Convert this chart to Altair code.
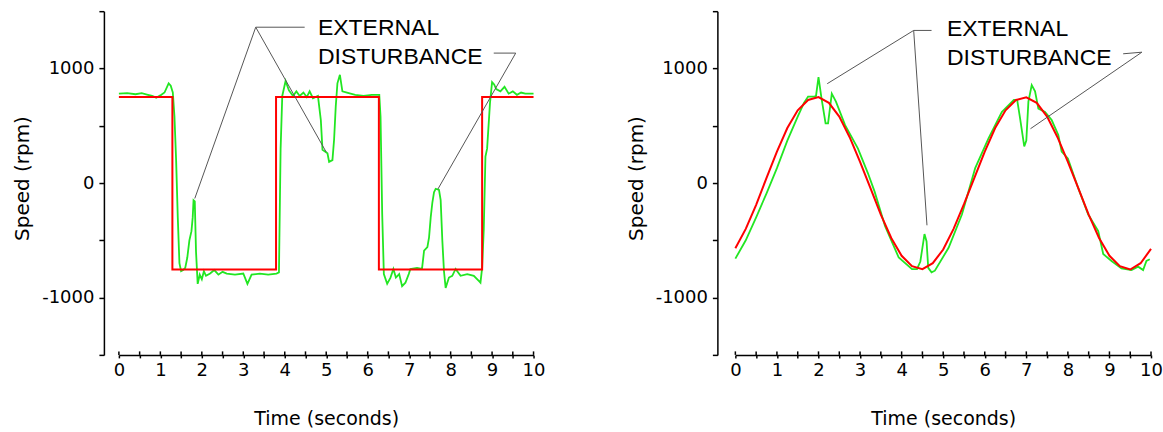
import altair as alt
import pandas as pd

# ---------------- data ----------------
# Left panel: square-wave reference (red) and measured speed (green)
sq_ref_t = [0.0, 1.29, 3.79, 6.27, 8.76, 10.0]
sq_ref_v = [750, -755, 750, -755, 750, 750]

sq_act_t = [0.0, 0.2, 0.4, 0.55, 0.7, 0.8, 0.9, 1.0, 1.1, 1.2, 1.25, 1.3, 1.34, 1.38,
            1.42, 1.46, 1.5, 1.55, 1.6, 1.65, 1.7, 1.75, 1.78, 1.8, 1.83, 1.86, 1.9,
            1.95, 2.0, 2.05, 2.1, 2.2, 2.3, 2.4, 2.5, 2.6, 2.8, 3.0, 3.1, 3.2, 3.4,
            3.6, 3.8, 3.86, 3.9, 3.94, 4.02, 4.1, 4.2, 4.28, 4.36, 4.45, 4.53, 4.6,
            4.68, 4.8, 4.87, 4.91, 5.03, 5.07, 5.15, 5.19, 5.23, 5.27, 5.33, 5.39,
            5.5, 5.7, 5.9, 6.1, 6.28, 6.31, 6.35, 6.39, 6.47, 6.55, 6.62, 6.68, 6.76,
            6.83, 6.91, 6.99, 7.03, 7.19, 7.31, 7.36, 7.44, 7.48, 7.52, 7.56, 7.6,
            7.64, 7.72, 7.76, 7.8, 7.84, 7.88, 7.96, 8.04, 8.12, 8.24, 8.4, 8.56,
            8.68, 8.72, 8.76, 8.8, 8.84, 8.88, 8.95, 9.0, 9.05, 9.1, 9.2, 9.3, 9.4,
            9.5, 9.6, 9.7, 9.8, 9.9, 10.0]
sq_act_v = [780, 785, 775, 785, 770, 760, 745, 765, 790, 870, 850, 790, 580, 200,
            -300, -700, -770, -760, -740, -650, -500, -420, -300, -150, -160, -600, -880,
            -800, -840, -770, -810, -790, -760, -800, -775, -790, -800, -790, -880, -800, -790,
            -800, -790, -780, 300, 760, 890, 810, 760, 800, 760, 790, 750, 800,
            740, 760, 550, 290, 260, 185, 200, 380, 670, 870, 945, 800,
            790, 770, 760, 770, 770, 580, -270, -795, -880, -825, -750, -825, -795,
            -900, -870, -795, -750, -740, -750, -590, -560, -475, -300, -170, -80,
            -50, -60, -150, -500, -770, -915, -825, -810, -750, -810, -795, -810,
            -855, -870, -740, -400, 230, 300, 700, 880, 860, 820, 800, 840, 780,
            800, 770, 790, 780, 780, 780]

# Right panel: sinusoidal reference (red) and measured speed (green)
sin_ref_t = [0.0, 0.25, 0.5, 0.75, 1.0, 1.25, 1.5, 1.75, 2.0, 2.25, 2.5, 2.75, 3.0,
             3.25, 3.5, 3.75, 4.0, 4.25, 4.5, 4.75, 5.0, 5.25, 5.5, 5.75, 6.0, 6.25,
             6.5, 6.75, 7.0, 7.25, 7.5, 7.75, 8.0, 8.25, 8.5, 8.75, 9.0, 9.25, 9.5,
             9.75, 10.0]
sin_ref_v = [-570, -400, -190, 45, 275, 480, 635, 725, 750, 700, 580, 400, 185,
             -45, -275, -480, -635, -725, -752, -700, -580, -400, -185, 45, 275, 480,
             635, 725, 748, 700, 580, 400, 185, -45, -275, -480, -635, -725, -755,
             -700, -575]

sin_act_t = [0.0, 0.25, 0.5, 0.75, 1.0, 1.25, 1.5, 1.65, 1.75, 1.9, 1.94, 2.0, 2.07,
             2.17, 2.23, 2.32, 2.42, 2.64, 2.95, 3.19, 3.35, 3.6, 3.93, 4.25, 4.37,
             4.45, 4.55, 4.6, 4.64, 4.72, 4.8, 5.13, 5.45, 5.77, 6.09, 6.41, 6.7,
             6.78, 6.85, 6.95, 7.0, 7.05, 7.13, 7.21, 7.29, 7.45, 7.61, 7.77, 7.85,
             8.0, 8.25, 8.49, 8.73, 8.85, 9.05, 9.29, 9.53, 9.69, 9.81, 9.89, 9.97]
sin_act_v = [-660, -500, -300, -90, 130, 370, 580, 700, 755, 755, 760, 925, 745,
             520, 520, 780, 710, 505, 300, 85, -75, -375, -650, -752, -752,
             -685, -445, -510, -740, -780, -765, -565, -275, 130, 390, 620, 725,
             725, 565, 320, 370, 710, 855, 800, 650, 620, 550, 420, 275,
             215, -45, -275, -420, -620, -680, -745, -760, -730, -760, -680, -665]

# Axis ticks
x_tick_values = [0, 0.5, 1, 1.5, 2, 2.5, 3, 3.5, 4, 4.5, 5, 5.5, 6, 6.5, 7, 7.5,
                 8, 8.5, 9, 9.5, 10]
y_tick_values = [-1500, -1000, -500, 0, 500, 1000, 1500]

# Annotations ("EXTERNAL DISTURBANCE" and leader lines), in data units
label_lines = ["EXTERNAL", "DISTURBANCE"]
sq_label_x = [4.80, 4.80]
sq_label_y = [1288, 1035]
sin_label_x = [5.09, 5.09]
sin_label_y = [1282, 1033]

sq_lead_x = [3.30, 3.30, 3.30, 9.04, 9.57]
sq_lead_y = [1360, 1360, 1360, 1134, 1134]
sq_lead_x2 = [4.48, 1.83, 5.00, 9.57, 7.69]
sq_lead_y2 = [1360, -135, 270, 1134, -55]

sin_lead_x = [4.29, 4.29, 4.29, 9.33, 9.78]
sin_lead_y = [1332, 1332, 1332, 1128, 1142]
sin_lead_x2 = [4.72, 2.21, 4.61, 9.78, 7.10]
sin_lead_y2 = [1332, 867, -369, 1142, 474]

# ---------------- chart ----------------
RED = "#ff0000"
GREEN = "#22e622"
LABEL_FONT = "DejaVu Sans"
ANNOT_FONT = "Liberation Sans"
HEIGHT = 344


def panel(ref_t, ref_v, ref_interp, act_t, act_v, lab_x, lab_y,
          lx, ly, lx2, ly2, width, y_offset):
    xscale = alt.Scale(domain=[0, 10], nice=False, zero=False)
    yscale = alt.Scale(domain=[-1500, 1500], nice=False, zero=False)
    yaxis = alt.Axis(
        values=y_tick_values,
        labelExpr="(datum.value == 0 || abs(datum.value) == 1000) ? '' + datum.value : ''",
        offset=y_offset, tickSize=5, labelPadding=5,
        title="Speed (rpm)", titleFontSize=20, titleAngle=270,
        titleBaseline="bottom", titleAlign="center", titleX=-71, titleY=167,
    )
    xaxis = alt.Axis(
        values=x_tick_values,
        labelExpr="datum.value % 1 == 0 ? '' + datum.value : ''",
        tickSize=3, labelPadding=4, labelFlush=False, labelOverlap=False,
        title="Time (seconds)", titleFontSize=19, titleBaseline="alphabetic",
        titleY=70,
    )
    ref_df = pd.DataFrame({"t": ref_t, "v": ref_v})
    act_df = pd.DataFrame({"t": act_t, "v": act_v})
    tick_df = pd.DataFrame({"t": x_tick_values})
    lead_df = pd.DataFrame({"x": lx, "y": ly, "x2": lx2, "y2": ly2})
    text_df = pd.DataFrame({"x": lab_x, "y": lab_y, "label": label_lines})

    X = lambda f: alt.X(f, scale=xscale, axis=xaxis)
    Y = lambda f: alt.Y(f, scale=yscale, axis=yaxis)

    red = alt.Chart(ref_df).mark_line(color=RED, strokeWidth=2, interpolate=ref_interp).encode(
        x=X("t:Q"), y=Y("v:Q"),
    )
    green = alt.Chart(act_df).mark_line(color=GREEN, strokeWidth=1.8).encode(
        x=X("t:Q"), y=Y("v:Q"),
    )
    # upper half of the x-axis ticks (the ticks cross the axis line)
    upticks = alt.Chart(tick_df).mark_rule(color="black", strokeWidth=1.5).encode(
        x=X("t:Q"),
        y=alt.value(HEIGHT - 3.5),
        y2=alt.value(HEIGHT),
    )
    leads = alt.Chart(lead_df).mark_rule(color="#555555", strokeWidth=1).encode(
        x=X("x:Q"), y=Y("y:Q"), x2="x2:Q", y2="y2:Q",
    )
    text = alt.Chart(text_df).mark_text(
        align="left", baseline="alphabetic", font=ANNOT_FONT, fontSize=23, color="black"
    ).encode(
        x=X("x:Q"), y=Y("y:Q"), text="label:N",
    )
    return alt.layer(green, red, upticks, leads, text).properties(
        width=width, height=HEIGHT
    )


left = panel(sq_ref_t, sq_ref_v, "step-after", sq_act_t, sq_act_v, sq_label_x, sq_label_y,
             sq_lead_x, sq_lead_y, sq_lead_x2, sq_lead_y2, 415, 15)
right = panel(sin_ref_t, sin_ref_v, "linear", sin_act_t, sin_act_v, sin_label_x, sin_label_y,
              sin_lead_x, sin_lead_y, sin_lead_x2, sin_lead_y2, 416, 18)

chart = alt.hconcat(left, right, spacing=81).properties(
    padding={"left": 13, "top": 10, "right": 0, "bottom": 5},
    background="white",
).configure_view(stroke=None).configure_axis(
    grid=False, domainColor="black", tickColor="black", domainWidth=1.5, tickWidth=1.5,
    labelColor="black", titleColor="black", labelFont=LABEL_FONT, labelFontSize=18,
    titleFont=LABEL_FONT, titleFontWeight="normal",
)

chart.save("out.html", embed_options={"renderer": "svg", "actions": False})
